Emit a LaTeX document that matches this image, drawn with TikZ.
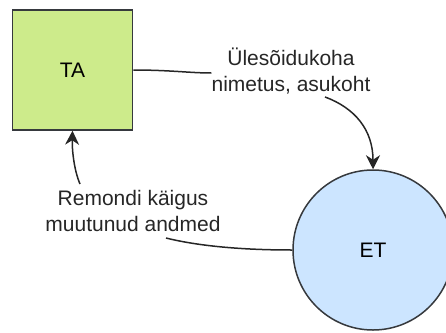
\documentclass[tikz,border=0pt]{standalone}
\usepackage{fontspec}
\setmainfont{Liberation Sans}
\usetikzlibrary{arrows.meta}
\definecolor{tagreen}{HTML}{CDEB8B}
\definecolor{etblue}{HTML}{CCE5FF}
\definecolor{strk}{HTML}{36393D}
\tikzset{
  ent/.style={draw=strk, line width=1.5pt, fill=tagreen, minimum width=120pt, minimum height=120pt, inner sep=0pt, font=\fontsize{21}{25.2}\selectfont},
  proc/.style={draw=strk, line width=1.5pt, fill=etblue, circle, minimum size=160pt, inner sep=0pt, font=\fontsize{21}{25.2}\selectfont},
  lbl/.style={align=center, inner sep=0pt, text=black!85, font=\fontsize{21}{25.2}\selectfont},
  flow/.style={draw=black!85, line width=1.5pt},
  arr/.style={-{Stealth[length=14pt,width=14pt,inset=4.5pt]}}
}
\begin{document}
\begin{tikzpicture}[x=1pt,y=-1pt]
\useasboundingbox (0,0) rectangle (446,332);
\node[ent] (TA) at (72.5,70) {TA};
\node[proc] (ET) at (373,250) {ET};
\node[lbl] (l1) at (291,71) {Ülesõidukoha\\nimetus, asukoht};
\node[lbl] (l2) at (133,211) {Remondi käigus\\muutunud andmed};
\coordinate (c1) at (325,97);
\coordinate (c2) at (166,238);
\coordinate (c3) at (80,184);
\draw[flow] (TA.east) .. controls (170,70) and (190,73) .. (l1.west |- 0,73);
\draw[flow, arr] (c1) .. controls (355,108) and (373,130) .. (ET.north);
\draw[flow] (ET.west) .. controls (230,250) and (190,244) .. (c2);
\draw[flow, arr] (c3) .. controls (74,170) and (72,150) .. (TA.south);
\end{tikzpicture}
\end{document}
